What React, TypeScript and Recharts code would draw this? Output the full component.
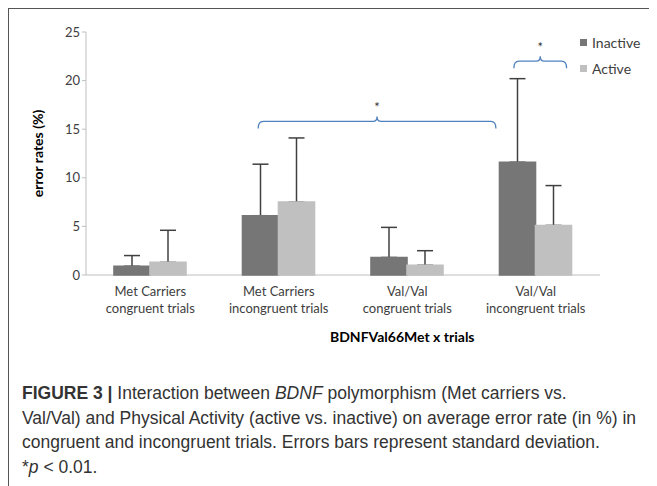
import { BarChart, Bar, XAxis, YAxis, ErrorBar } from "recharts";

if (typeof document !== "undefined") document.body.style.overflow = "hidden";

const categories = [
  "Met Carriers\ncongruent trials",
  "Met Carriers\nincongruent trials",
  "Val/Val\ncongruent trials",
  "Val/Val\nincongruent trials",
];
const inactive = [0.9, 6.1, 1.8, 11.6];
const active = [1.3, 7.5, 1.0, 5.1];
const inactiveSd = [1.1, 5.3, 3.1, 8.6];
const activeSd = [3.3, 6.6, 1.5, 4.1];
const yTicks = [0, 5, 10, 15, 20, 25];

const data = categories.map((name, i) => ({
  name,
  inactive: inactive[i],
  active: active[i],
  inactiveErr: [0, inactiveSd[i]],
  activeErr: [0, activeSd[i]],
}));

const CHART_W = 640;
const CHART_H = 330;
const PLOT_LEFT = 76;
const PLOT_RIGHT = 590;
const PLOT_TOP = 22;
const PLOT_BOTTOM = 265;
const band = (PLOT_RIGHT - PLOT_LEFT) / categories.length;
const xAt = (pos: number) => PLOT_LEFT + pos * band;
const yAt = (v: number) => PLOT_BOTTOM - (v / 25) * (PLOT_BOTTOM - PLOT_TOP);

const chartFont = "Lato, 'Open Sans', sans-serif";
const INACTIVE = "#767676";
const ACTIVE = "#C0C0C0";

const CategoryTick = (props: any) => {
  const { x, y, payload } = props;
  const lines = String(payload.value).split("\n");
  return (
    <text x={x} y={y + 1} textAnchor="middle" fill="#404040" fontSize={13} fontFamily={chartFont}>
      {lines.map((l, i) => (
        <tspan key={i} x={x} dy={i === 0 ? 12 : 17}>
          {l}
        </tspan>
      ))}
    </text>
  );
};

const legendItems = [
  { label: "Inactive", color: INACTIVE },
  { label: "Active", color: ACTIVE },
];

const brace = (x1: number, x2: number, v: number) => {
  const a = xAt(x1);
  const b = xAt(x2);
  const m = (a + b) / 2;
  const y = yAt(v);
  const d = `M${a} ${y + 7} Q${a} ${y} ${a + 5} ${y} L${m - 4} ${y} Q${m} ${y} ${m} ${y - 5} Q${m} ${y} ${m + 4} ${y} L${b - 5} ${y} Q${b} ${y} ${b} ${y + 7}`;
  return (
    <g key={`${x1}-${x2}`}>
      <path d={d} fill="none" stroke="#4F81BD" strokeWidth={1.3} />
      <text x={m} y={y - 9} textAnchor="middle" fontSize={13} fontFamily={chartFont} fill="#333">
        *
      </text>
    </g>
  );
};

// same layout twice: the lower chart has axes + error bars, the upper one repaints the bars
// so the error whiskers start at the bar top with no cap showing inside the bar
const Chart = ({ withErrors }: { withErrors: boolean }) => (
  <BarChart
    width={CHART_W}
    height={CHART_H}
    data={data}
    margin={{ top: PLOT_TOP, right: CHART_W - PLOT_RIGHT, bottom: 0, left: 0 }}
    barGap={0}
  >
    <XAxis
      dataKey="name"
      height={CHART_H - PLOT_BOTTOM}
      tick={withErrors ? <CategoryTick /> : false}
      tickLine={false}
      axisLine={withErrors ? { stroke: "#BFBFBF" } : false}
      interval={0}
    />
    <YAxis
      width={PLOT_LEFT}
      domain={[0, 25]}
      ticks={yTicks}
      tick={withErrors ? { fill: "#404040", fontSize: 13, fontFamily: chartFont } : false}
      tickLine={withErrors ? { stroke: "#BFBFBF" } : false}
      tickSize={4}
      axisLine={withErrors ? { stroke: "#BFBFBF" } : false}
      label={
        withErrors
          ? {
              value: "error rates (%)",
              angle: -90,
              position: "insideLeft",
              offset: 28,
              style: { textAnchor: "middle", fontWeight: 700, fontSize: 14, fill: "#000", fontFamily: chartFont },
            }
          : undefined
      }
    />
    <Bar
      dataKey="inactive"
      fill={INACTIVE}
      stroke={withErrors ? undefined : INACTIVE}
      strokeWidth={withErrors ? 0 : 1.6}
      barSize={36}
      isAnimationActive={false}
    >
      {withErrors && <ErrorBar dataKey="inactiveErr" direction="y" width={8} stroke="#404040" strokeWidth={1.5} />}
    </Bar>
    <Bar
      dataKey="active"
      fill={ACTIVE}
      stroke={withErrors ? undefined : ACTIVE}
      strokeWidth={withErrors ? 0 : 1.6}
      barSize={36}
      isAnimationActive={false}
    >
      {withErrors && <ErrorBar dataKey="activeErr" direction="y" width={8} stroke="#404040" strokeWidth={1.5} />}
    </Bar>
  </BarChart>
);

export default function App() {
  return (
    <div style={{ width: 649, height: 478, overflow: "hidden", position: "relative" }}>
      <div
        style={{
          position: "absolute",
          left: 0,
          top: 0,
          width: 700,
          height: 520,
          borderTop: "1.5px solid #555",
          borderLeft: "1.5px solid #555",
          boxSizing: "border-box",
        }}
      />
      <div style={{ position: "absolute", left: 2, top: 2 }}>
        <Chart withErrors />
        <div style={{ position: "absolute", left: 0, top: 0 }}>
          <Chart withErrors={false} />
        </div>
        <svg width={CHART_W} height={CHART_H} style={{ position: "absolute", left: 0, top: 0, pointerEvents: "none" }}>
          {brace(1.34, 3.19, 15.8)}
          {brace(3.33, 3.74, 22.0)}
        </svg>
      </div>
      <div
        style={{
          position: "absolute",
          left: 572,
          top: 21,
          fontFamily: chartFont,
          fontSize: 14,
          color: "#404040",
        }}
      >
        {legendItems.map((it) => (
          <div key={it.label} style={{ display: "flex", alignItems: "center", height: 26 }}>
            <span style={{ width: 7, height: 7, background: it.color, marginRight: 5, display: "inline-block" }} />
            {it.label}
          </div>
        ))}
      </div>
      <div
        style={{
          position: "absolute",
          left: 322,
          top: 320,
          fontFamily: chartFont,
          fontWeight: 700,
          fontSize: 14,
          color: "#000",
        }}
      >
        BDNFVal66Met x trials
      </div>
      <div
        style={{
          position: "absolute",
          left: 14,
          top: 373,
          fontFamily: "'Liberation Sans', Arial, sans-serif",
          fontSize: 17.5,
          lineHeight: "24.7px",
          color: "#333",
          whiteSpace: "nowrap",
        }}
      >
        <b>FIGURE 3 |</b> Interaction between <i>BDNF</i> polymorphism (Met carriers vs.
        <br />
        Val/Val) and Physical Activity (active vs. inactive) on average error rate (in %) in
        <br />
        congruent and incongruent trials. Errors bars represent standard deviation.
        <br />*<i>p</i> &lt; 0.01.
      </div>
    </div>
  );
}
